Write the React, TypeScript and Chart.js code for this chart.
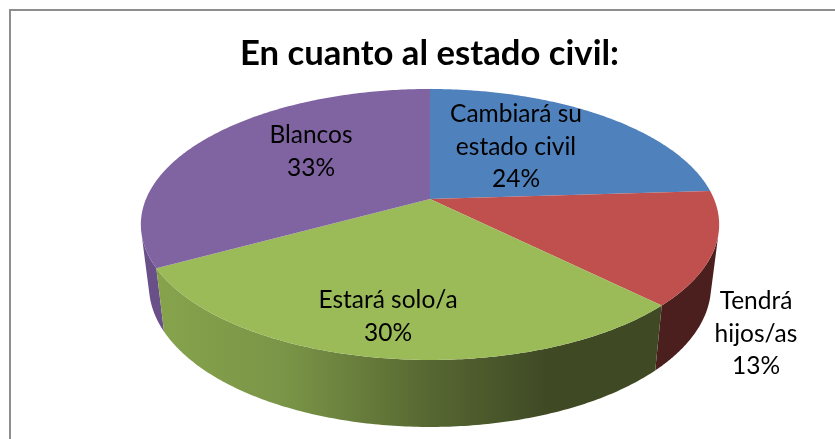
import React, { useEffect, useRef } from "react";
import { Chart, registerables } from "chart.js";

Chart.register(...registerables);

const titleText = "En cuanto al estado civil:";
const categories = [
  ["Cambiará su", "estado civil"],
  ["Tendrá", "hijos/as"],
  ["Estará solo/a"],
  ["Blancos"],
];
const seriesValues = [24, 13.49, 29.51, 33];
const topColors = ["#4f81bd", "#c0504d", "#9bbb59", "#8064a2"];
const labelCentres = [
  [516, 114],
  [756, 301],
  [388, 300],
  [311, 135],
];

const FONT = "Lato, 'Open Sans', sans-serif";
const LABEL_SIZE = 24.5;
const LINE_STEP = 32.7;

// Projective view of the unit disc
const CX = 430;
const CY = 199;
const A = 130.7;
const B = 284;
const K = 0.188;
const SHRINK = 0.972;

function rimTop(angle: number): [number, number] {
  const u = Math.cos(angle);
  const v = Math.sin(angle);
  const d = 1 - K * v;
  return [CX + (B * u) / d, CY + (A * v) / d];
}
function rimBottom(angle: number): [number, number] {
  const [x, y] = rimTop(angle);
  const v = Math.sin(angle);
  return [CX + SHRINK * (x - CX), y + 60 + 7 * v];
}

// The part of the rim whose wall faces the viewer
function visibleArc(): [number, number] {
  let first = 0;
  let last = 0;
  let found = false;
  const step = 0.001;
  for (let a = -Math.PI / 2; a < (3 * Math.PI) / 2; a += step) {
    const p = rimTop(a);
    const q = rimTop(a + step);
    const b = rimBottom(a);
    const cross = (q[0] - p[0]) * (b[1] - p[1]) - (q[1] - p[1]) * (b[0] - p[0]);
    if (cross < 0) {
      if (!found) first = a;
      found = true;
      last = a;
    }
  }
  return [first, last];
}

function sideFill(ctx: CanvasRenderingContext2D, index: number) {
  if (index === 1) return "#4c1f1f";
  if (index === 2) {
    const g = ctx.createLinearGradient(160, 0, 656, 0);
    g.addColorStop(0, "#86a34c");
    g.addColorStop(0.25, "#7a9547");
    g.addColorStop(0.55, "#566631");
    g.addColorStop(0.78, "#3f4a25");
    g.addColorStop(1, "#3f4a25");
    return g;
  }
  if (index === 3) return "#6a5088";
  return "#2c4a6e";
}

const pie3d = {
  id: "pie3d",
  beforeDraw(chart: any) {
    const ctx = chart.ctx;
    ctx.save();
    ctx.fillStyle = "#ffffff";
    ctx.fillRect(0, 0, chart.width, chart.height);
    ctx.strokeStyle = "#8e8e8e";
    ctx.lineWidth = 2;
    ctx.strokeRect(10, 10, chart.width + 20, chart.height + 20);
    ctx.restore();
  },
  beforeDatasetsDraw(chart: any) {
    const ctx: CanvasRenderingContext2D = chart.ctx;
    const arcs = chart.getDatasetMeta(0).data;
    const STEPS = 160;
    const [arcFrom, arcTo] = visibleArc();
    ctx.save();
    // side walls: top rim forward, bottom rim back, over the visible arc only
    [0, 3, 1, 2].forEach((i) => {
      const el = arcs[i];
      const from = Math.max(el.startAngle, arcFrom);
      const to = Math.min(el.endAngle, arcTo);
      if (to <= from) return;
      const at = (s: number) => from + ((to - from) * s) / STEPS;
      ctx.beginPath();
      for (let s = 0; s <= STEPS; s++) {
        const [x, y] = rimTop(at(s));
        if (s === 0) ctx.moveTo(x, y);
        else ctx.lineTo(x, y);
      }
      for (let s = STEPS; s >= 0; s--) {
        const [x, y] = rimBottom(at(s));
        ctx.lineTo(x, y);
      }
      ctx.closePath();
      ctx.fillStyle = sideFill(ctx, i);
      ctx.fill();
    });
    // top faces
    arcs.forEach((el: any, i: number) => {
      ctx.beginPath();
      ctx.moveTo(CX, CY);
      for (let s = 0; s <= STEPS; s++) {
        const a = el.startAngle + ((el.endAngle - el.startAngle) * s) / STEPS;
        const [x, y] = rimTop(a);
        ctx.lineTo(x, y);
      }
      ctx.closePath();
      ctx.fillStyle = topColors[i];
      ctx.fill();
    });
    // data labels
    const total = seriesValues.reduce((p, c) => p + c, 0);
    ctx.fillStyle = "#000000";
    ctx.font = `${LABEL_SIZE}px ${FONT}`;
    ctx.textAlign = "center";
    ctx.textBaseline = "middle";
    categories.forEach((lines, i) => {
      const pct = `${Math.round((seriesValues[i] / total) * 100)}%`;
      [...lines, pct].forEach((t, j) => {
        ctx.fillText(t, labelCentres[i][0], labelCentres[i][1] + j * LINE_STEP);
      });
    });
    ctx.restore();
    return false;
  },
};

export default function App() {
  const ref = useRef<HTMLCanvasElement>(null);
  useEffect(() => {
    document.body.style.margin = "0";
    const chart = new Chart(ref.current as HTMLCanvasElement, {
      type: "pie",
      data: {
        labels: categories.map((c) => c.join(" ")),
        datasets: [{ data: seriesValues, backgroundColor: topColors, borderWidth: 0 }],
      },
      plugins: [pie3d],
      options: {
        responsive: false,
        animation: false,
        layout: { padding: { left: 24 } },
        plugins: {
          legend: { display: false },
          tooltip: { enabled: false },
          title: {
            display: true,
            text: titleText,
            color: "#000000",
            font: { family: FONT, size: 34.7, weight: "bold" },
            padding: { top: 33, bottom: 10 },
          },
        },
      },
    } as any);
    return () => chart.destroy();
  }, []);
  return <canvas ref={ref} width={835} height={439} style={{ display: "block" }} />;
}
